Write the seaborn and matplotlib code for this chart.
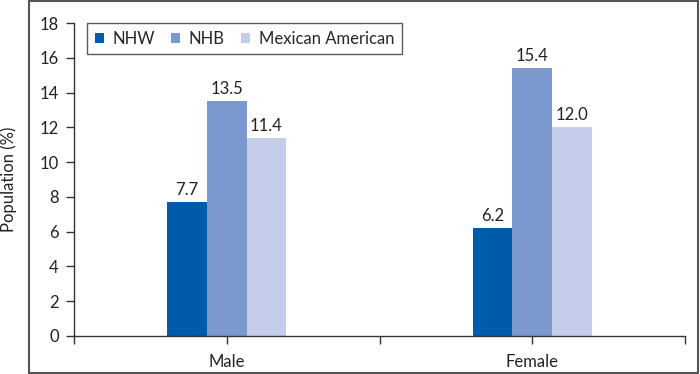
import pandas as pd
import seaborn as sns
import matplotlib.pyplot as plt
from matplotlib.patches import Rectangle

# Data
sexes = ["Male", "Female"]
groups = ["NHW", "NHB", "Mexican American"]
nhw = [7.7, 6.2]
nhb = [13.5, 15.4]
mexican_american = [11.4, 12.0]
colors = ["#005baa", "#7b98cf", "#c4cde9"]

df = pd.DataFrame({
    "Sex": sexes * 3,
    "Group": [g for g in groups for _ in sexes],
    "Population": nhw + nhb + mexican_american,
})

sns.set_style("ticks")
plt.rcParams["font.family"] = ["Lato", "DejaVu Sans"]
fs = 12

fig = plt.figure(figsize=(7, 3.74), dpi=100)
ax = fig.add_axes([74 / 700, 1 - 336 / 374, 611 / 700, 313 / 374])

sns.barplot(data=df, x="Sex", y="Population", hue="Group", order=sexes,
            hue_order=groups, palette=colors, width=0.39, gap=0,
            saturation=1, linewidth=0, ax=ax)

for cont in ax.containers:
    ax.bar_label(cont, fmt="%.1f", padding=3, fontsize=fs, color="#222222")

ax.set_xlim(-0.5, 1.5)
ax.set_ylim(0, 18)
ax.set_yticks(range(0, 19, 2))
ax.set_xticks([-0.5, 0, 0.5, 1, 1.5])
ax.set_xticklabels(["", "Male", "", "Female", ""])
ax.tick_params(axis="both", labelsize=fs, length=6, width=1, color="#333333",
               labelcolor="#222222")
ax.tick_params(axis="x", pad=7)
ax.tick_params(axis="y", pad=5)
ax.set_xlabel("")
ax.set_ylabel("")
fig.text(9 / 700, 1 - (23 + 336) / 2 / 374, "Population (%)", rotation=90,
         ha="center", va="center", fontsize=fs, color="#222222")
for s in ["top", "right"]:
    ax.spines[s].set_visible(False)
for s in ["left", "bottom"]:
    ax.spines[s].set_color("#333333")
    ax.spines[s].set_linewidth(1)

leg = ax.legend(loc="upper left", bbox_to_anchor=(13 / 611, 1.0), ncol=3,
                fontsize=fs, frameon=True, fancybox=False, handlelength=0.55,
                handleheight=0.55, handletextpad=0.5, columnspacing=1.0,
                borderpad=0.45, borderaxespad=0)
leg.get_frame().set_edgecolor("#333333")
leg.get_frame().set_linewidth(1)

# Outer frame around the plot area
fig.patches.append(Rectangle((29 / 700, 1 / 374), 669 / 700, 372 / 374,
                             transform=fig.transFigure, fill=False,
                             edgecolor="#555555", linewidth=1.5))

fig.savefig("out.png", dpi=100)
